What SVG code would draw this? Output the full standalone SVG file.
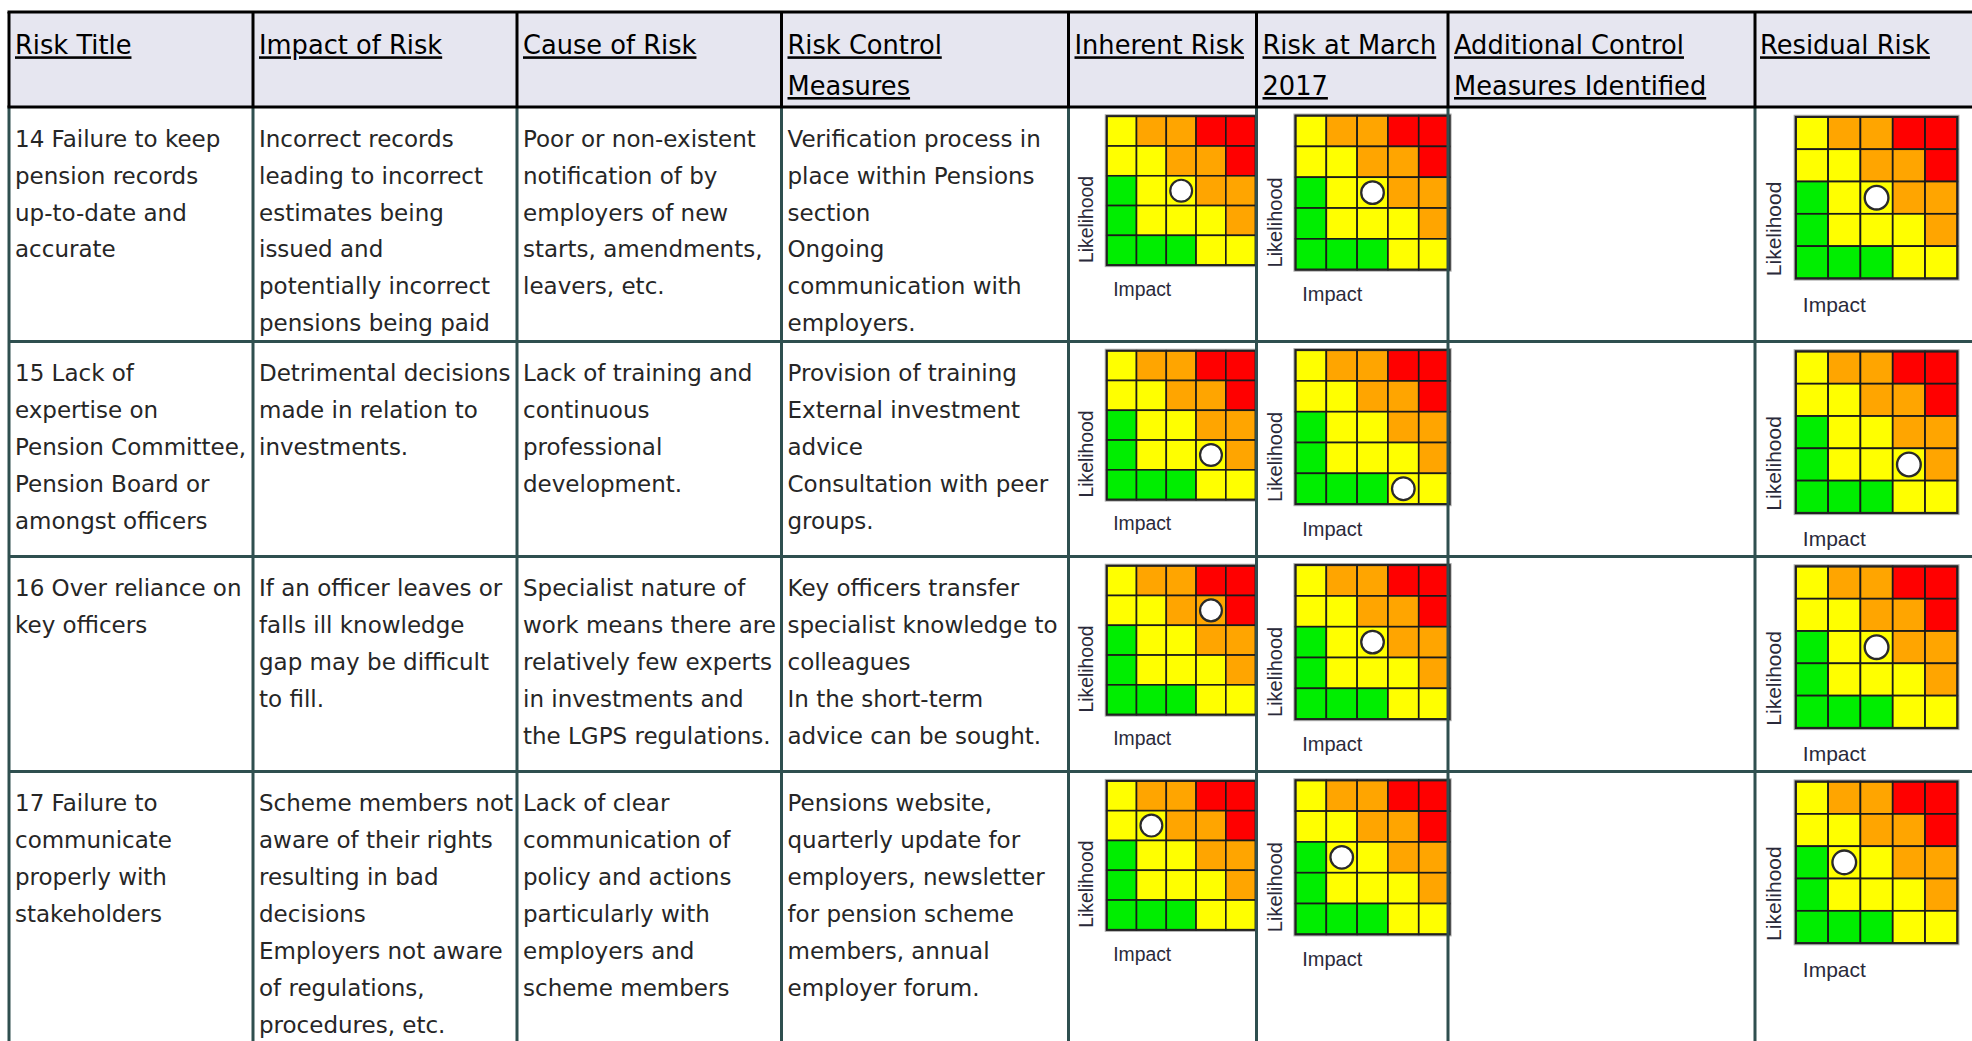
<svg xmlns="http://www.w3.org/2000/svg" width="1972" height="1041" viewBox="0 0 1972 1041">
<style>
.h{font-family:"DejaVu Sans",Verdana,sans-serif;font-size:25.7px;fill:#000;text-decoration:underline}
.b{font-family:"DejaVu Sans",Verdana,sans-serif;font-size:23px;fill:#262626}
.lbl{font-family:"Liberation Sans",Arial,sans-serif;font-size:19.5px;fill:#2a2a3a}
.hl{stroke:#000;stroke-width:3;fill:none}
.bl{stroke:#2F4F4F;stroke-width:3;fill:none}
.cy{fill:#FFFF00}.co{fill:#FFA500}.cr{fill:#FF0000}.cg{fill:#00EE00}
.cell{stroke:#1a1a1a;stroke-width:1.6}
.dot{fill:#fff;stroke:#2a2a2a;stroke-width:2.2}
</style>
<defs>
<g id="mx">
<rect x="-1.5" y="-1.5" width="153" height="153" fill="none" stroke="#aaa" stroke-width="1"/>
<g class="cell">
<rect class="cy" x="0" y="0" width="30" height="30"/><rect class="co" x="30" y="0" width="30" height="30"/><rect class="co" x="60" y="0" width="30" height="30"/><rect class="cr" x="90" y="0" width="30" height="30"/><rect class="cr" x="120" y="0" width="30" height="30"/>
<rect class="cy" x="0" y="30" width="30" height="30"/><rect class="cy" x="30" y="30" width="30" height="30"/><rect class="co" x="60" y="30" width="30" height="30"/><rect class="co" x="90" y="30" width="30" height="30"/><rect class="cr" x="120" y="30" width="30" height="30"/>
<rect class="cg" x="0" y="60" width="30" height="30"/><rect class="cy" x="30" y="60" width="30" height="30"/><rect class="cy" x="60" y="60" width="30" height="30"/><rect class="co" x="90" y="60" width="30" height="30"/><rect class="co" x="120" y="60" width="30" height="30"/>
<rect class="cg" x="0" y="90" width="30" height="30"/><rect class="cy" x="30" y="90" width="30" height="30"/><rect class="cy" x="60" y="90" width="30" height="30"/><rect class="cy" x="90" y="90" width="30" height="30"/><rect class="co" x="120" y="90" width="30" height="30"/>
<rect class="cg" x="0" y="120" width="30" height="30"/><rect class="cg" x="30" y="120" width="30" height="30"/><rect class="cg" x="60" y="120" width="30" height="30"/><rect class="cy" x="90" y="120" width="30" height="30"/><rect class="cy" x="120" y="120" width="30" height="30"/>
</g>
<rect x="0" y="0" width="150" height="150" fill="none" stroke="#222" stroke-width="2"/>
<text class="lbl" transform="translate(-13.5,104) rotate(-90)" text-anchor="middle">Likelihood</text>
<text class="lbl" x="6.5" y="181">Impact</text>
</g>
</defs>

<rect x="0" y="0" width="1972" height="1041" fill="#fff"/>
<rect x="9" y="12" width="1970" height="95" fill="#E6E6F0"/>

<g id="header">
<text class="h" x="15" y="54.3">Risk Title</text>
<text class="h" x="259" y="54.3">Impact of Risk</text>
<text class="h" x="523" y="54.3">Cause of Risk</text>
<text class="h" x="787.5" y="54.3">Risk Control</text>
<text class="h" x="787.5" y="95">Measures</text>
<text class="h" x="1074.5" y="54.3">Inherent Risk</text>
<text class="h" x="1262.5" y="54.3">Risk at March</text>
<text class="h" x="1262.5" y="95">2017</text>
<text class="h" x="1454" y="54.3">Additional Control</text>
<text class="h" x="1454" y="95">Measures Identified</text>
<text class="h" x="1760" y="54.3">Residual Risk</text>
</g>

<g id="risk-14">
<text class="b" y="146.7"><tspan x="15">14 Failure to keep</tspan><tspan x="15" dy="36.9">pension records</tspan><tspan x="15" dy="36.9">up-to-date and</tspan><tspan x="15" dy="36.9">accurate</tspan></text>
<text class="b" y="146.7"><tspan x="259">Incorrect records</tspan><tspan x="259" dy="36.9">leading to incorrect</tspan><tspan x="259" dy="36.9">estimates being</tspan><tspan x="259" dy="36.9">issued and</tspan><tspan x="259" dy="36.9">potentially incorrect</tspan><tspan x="259" dy="36.9">pensions being paid</tspan></text>
<text class="b" y="146.7"><tspan x="523">Poor or non-existent</tspan><tspan x="523" dy="36.9">notification of by</tspan><tspan x="523" dy="36.9">employers of new</tspan><tspan x="523" dy="36.9">starts, amendments,</tspan><tspan x="523" dy="36.9">leavers, etc.</tspan></text>
<text class="b" y="146.7"><tspan x="787.5">Verification process in</tspan><tspan x="787.5" dy="36.9">place within Pensions</tspan><tspan x="787.5" dy="36.9">section</tspan><tspan x="787.5" dy="36.9">Ongoing</tspan><tspan x="787.5" dy="36.9">communication with</tspan><tspan x="787.5" dy="36.9">employers.</tspan></text>
<g transform="translate(1106.7,116.2) scale(0.993)"><use href="#mx"/><circle class="dot" cx="75" cy="75" r="11"/></g>
<g transform="translate(1295.5,115.6) scale(1.027)"><use href="#mx"/><circle class="dot" cx="75" cy="75" r="11"/></g>
<g transform="translate(1795.8,116.9) scale(1.077)"><use href="#mx"/><circle class="dot" cx="75" cy="75" r="11"/></g>
</g>

<g id="risk-15">
<text class="b" y="381.2"><tspan x="15">15 Lack of</tspan><tspan x="15" dy="36.9">expertise on</tspan><tspan x="15" dy="36.9">Pension Committee,</tspan><tspan x="15" dy="36.9">Pension Board or</tspan><tspan x="15" dy="36.9">amongst officers</tspan></text>
<text class="b" y="381.2"><tspan x="259">Detrimental decisions</tspan><tspan x="259" dy="36.9">made in relation to</tspan><tspan x="259" dy="36.9">investments.</tspan></text>
<text class="b" y="381.2"><tspan x="523">Lack of training and</tspan><tspan x="523" dy="36.9">continuous</tspan><tspan x="523" dy="36.9">professional</tspan><tspan x="523" dy="36.9">development.</tspan></text>
<text class="b" y="381.2"><tspan x="787.5">Provision of training</tspan><tspan x="787.5" dy="36.9">External investment</tspan><tspan x="787.5" dy="36.9">advice</tspan><tspan x="787.5" dy="36.9">Consultation with peer</tspan><tspan x="787.5" dy="36.9">groups.</tspan></text>
<g transform="translate(1106.7,350.7) scale(0.993)"><use href="#mx"/><circle class="dot" cx="105" cy="105" r="11"/></g>
<g transform="translate(1295.5,350.1) scale(1.027)"><use href="#mx"/><circle class="dot" cx="105" cy="135" r="11"/></g>
<g transform="translate(1795.8,351.4) scale(1.077)"><use href="#mx"/><circle class="dot" cx="105" cy="105" r="11"/></g>
</g>

<g id="risk-16">
<text class="b" y="596.2"><tspan x="15">16 Over reliance on</tspan><tspan x="15" dy="36.9">key officers</tspan></text>
<text class="b" y="596.2"><tspan x="259">If an officer leaves or</tspan><tspan x="259" dy="36.9">falls ill knowledge</tspan><tspan x="259" dy="36.9">gap may be difficult</tspan><tspan x="259" dy="36.9">to fill.</tspan></text>
<text class="b" y="596.2"><tspan x="523">Specialist nature of</tspan><tspan x="523" dy="36.9">work means there are</tspan><tspan x="523" dy="36.9">relatively few experts</tspan><tspan x="523" dy="36.9">in investments and</tspan><tspan x="523" dy="36.9">the LGPS regulations.</tspan></text>
<text class="b" y="596.2"><tspan x="787.5">Key officers transfer</tspan><tspan x="787.5" dy="36.9">specialist knowledge to</tspan><tspan x="787.5" dy="36.9">colleagues</tspan><tspan x="787.5" dy="36.9">In the short-term</tspan><tspan x="787.5" dy="36.9">advice can be sought.</tspan></text>
<g transform="translate(1106.7,565.7) scale(0.993)"><use href="#mx"/><circle class="dot" cx="105" cy="45" r="11"/></g>
<g transform="translate(1295.5,565.1) scale(1.027)"><use href="#mx"/><circle class="dot" cx="75" cy="75" r="11"/></g>
<g transform="translate(1795.8,566.4) scale(1.077)"><use href="#mx"/><circle class="dot" cx="75" cy="75" r="11"/></g>
</g>

<g id="risk-17">
<text class="b" y="811.2"><tspan x="15">17 Failure to</tspan><tspan x="15" dy="36.9">communicate</tspan><tspan x="15" dy="36.9">properly with</tspan><tspan x="15" dy="36.9">stakeholders</tspan></text>
<text class="b" y="811.2"><tspan x="259">Scheme members not</tspan><tspan x="259" dy="36.9">aware of their rights</tspan><tspan x="259" dy="36.9">resulting in bad</tspan><tspan x="259" dy="36.9">decisions</tspan><tspan x="259" dy="36.9">Employers not aware</tspan><tspan x="259" dy="36.9">of regulations,</tspan><tspan x="259" dy="36.9">procedures, etc.</tspan></text>
<text class="b" y="811.2"><tspan x="523">Lack of clear</tspan><tspan x="523" dy="36.9">communication of</tspan><tspan x="523" dy="36.9">policy and actions</tspan><tspan x="523" dy="36.9">particularly with</tspan><tspan x="523" dy="36.9">employers and</tspan><tspan x="523" dy="36.9">scheme members</tspan></text>
<text class="b" y="811.2"><tspan x="787.5">Pensions website,</tspan><tspan x="787.5" dy="36.9">quarterly update for</tspan><tspan x="787.5" dy="36.9">employers, newsletter</tspan><tspan x="787.5" dy="36.9">for pension scheme</tspan><tspan x="787.5" dy="36.9">members, annual</tspan><tspan x="787.5" dy="36.9">employer forum.</tspan></text>
<g transform="translate(1106.7,780.9) scale(0.993)"><use href="#mx"/><circle class="dot" cx="45" cy="45" r="11"/></g>
<g transform="translate(1295.5,780.3) scale(1.027)"><use href="#mx"/><circle class="dot" cx="45" cy="75" r="11"/></g>
<g transform="translate(1795.8,781.6) scale(1.077)"><use href="#mx"/><circle class="dot" cx="45" cy="75" r="11"/></g>
</g>

<g id="grid">
<path class="bl" d="M9 107V1041M253 107V1041M517 107V1041M781.5 107V1041M1068.5 107V1041M1256.5 107V1041M1448 107V1041M1755 107V1041"/>
<path class="bl" d="M9 341.5H1972M9 556.5H1972M9 771.5H1972"/>
<path class="hl" d="M9 12V107M253 12V107M517 12V107M781.5 12V107M1068.5 12V107M1256.5 12V107M1448 12V107M1755 12V107"/>
<path class="hl" d="M7.5 12H1972M7.5 107H1972"/>
</g>
</svg>
